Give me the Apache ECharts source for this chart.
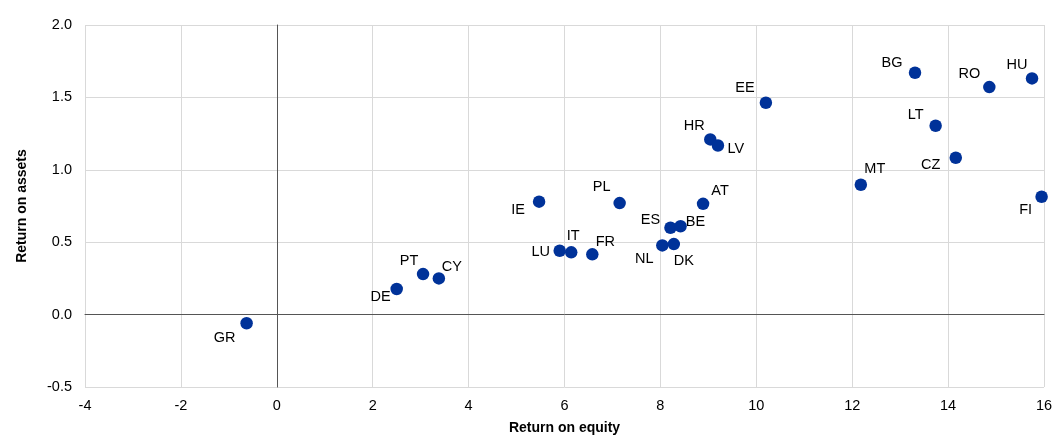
<!DOCTYPE html>
<html>
<head>
<meta charset="utf-8">
<script src="https://cdn.jsdelivr.net/npm/echarts@6/dist/echarts.min.js"></script>
<style>
html,body{margin:0;padding:0;background:#fff;}
#chart{width:1053px;height:438px;}
</style>
</head>
<body>
<div id="chart"></div>
<script>
// Data
var countries = ["GR","DE","PT","CY","IE","LU","IT","FR","PL","ES","BE","NL","DK","AT","HR","LV","EE","MT","CZ","LT","BG","RO","HU","FI"];
var returnOnEquity = [-0.63,2.50,3.05,3.38,5.47,5.90,6.14,6.58,7.15,8.21,8.42,8.04,8.28,8.89,9.04,9.20,10.20,12.18,14.16,13.74,13.31,14.86,15.75,15.95];
var returnOnAssets = [-0.06,0.177,0.28,0.25,0.78,0.441,0.43,0.416,0.77,0.60,0.61,0.478,0.487,0.765,1.21,1.168,1.463,0.897,1.083,1.304,1.67,1.571,1.631,0.814];
var xTicks = [-4,-2,0,2,4,6,8,10,12,14,16];
var yTicks = [-0.5,0.0,0.5,1.0,1.5,2.0];

// Label placement (styling only)
var labelOffsets = {
  GR:[-22,15], DE:[-16,8], PT:[-14,-13], CY:[13,-11], IE:[-21,8], LU:[-19,1],
  IT:[2,-16], FR:[13,-12], PL:[-18,-16], ES:[-20,-8], BE:[15,-4], NL:[-18,14],
  DK:[10,17], AT:[17,-13], HR:[-16,-13], LV:[18,4], EE:[-21,-15], MT:[14,-16],
  CZ:[-25,7], LT:[-20,-11], BG:[-23,-10], RO:[-20,-13], HU:[-15,-13], FI:[-16,13]
};

var data = countries.map(function(c,i){
  return {
    value:[returnOnEquity[i], returnOnAssets[i]],
    name:c,
    label:{offset: labelOffsets[c]}
  };
});

var chart = echarts.init(document.getElementById('chart'));
var font = 'Liberation Sans, Arial, sans-serif';
chart.setOption({
  animation:false,
  grid:{left:85, right:9, top:25, bottom:51, containLabel:false, outerBoundsMode:'none'},
  xAxis:{
    type:'value', min:xTicks[0], max:xTicks[xTicks.length-1], interval:2,
    name:'Return on equity', nameLocation:'middle', nameGap:34,
    nameTextStyle:{fontFamily:font, fontWeight:'bold', fontSize:14, color:'#000'},
    axisLine:{show:true, onZero:true, lineStyle:{color:'#555', width:1}},
    axisTick:{show:false},
    axisLabel:{fontFamily:font, fontSize:14.5, color:'#000', margin:11},
    splitLine:{show:true, showMinLine:true, showMaxLine:true, lineStyle:{color:'#d9d9d9', width:1}}
  },
  yAxis:{
    type:'value', min:yTicks[0], max:yTicks[yTicks.length-1], interval:0.5,
    name:'Return on assets', nameLocation:'middle', nameGap:56, nameRotate:90,
    nameTextStyle:{fontFamily:font, fontWeight:'bold', fontSize:14, color:'#000'},
    axisLine:{show:true, onZero:true, lineStyle:{color:'#555', width:1}},
    axisTick:{show:false},
    axisLabel:{fontFamily:font, fontSize:14.5, color:'#000', margin:13,
      formatter:function(v){return v.toFixed(1);}},
    splitLine:{show:true, showMinLine:true, showMaxLine:true, lineStyle:{color:'#d9d9d9', width:1}}
  },
  series:[{
    type:'scatter',
    symbol:'circle',
    symbolSize:12.5,
    itemStyle:{color:'#003299', opacity:1},
    emphasis:{disabled:true},
    label:{show:true, position:'inside', align:'center', verticalAlign:'middle',
      fontFamily:font, fontSize:14.5, color:'#000',
      formatter:function(p){return p.name;}},
    data:data
  }]
});
</script>
</body>
</html>
